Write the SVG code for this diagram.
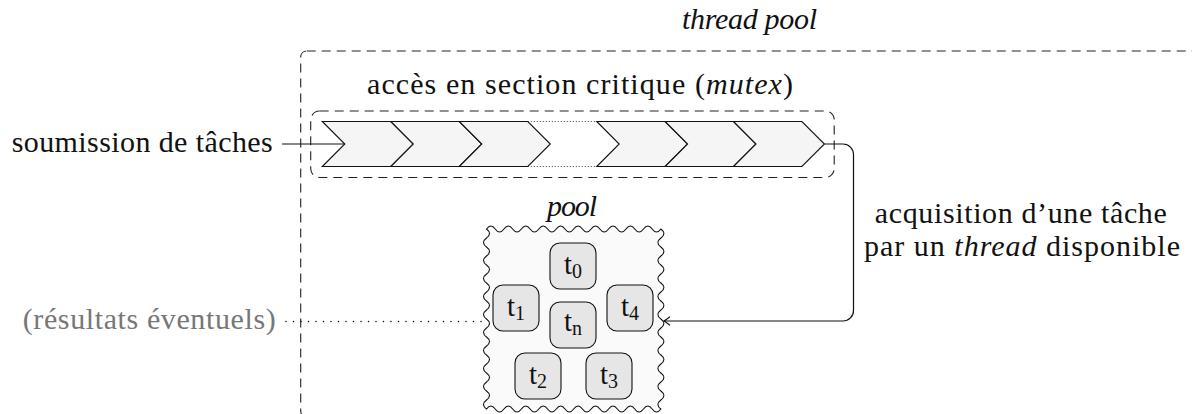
<svg xmlns="http://www.w3.org/2000/svg" width="1192" height="414" viewBox="0 0 1192 414">
<style>
text{font-family:"Liberation Serif","DejaVu Serif",serif;font-size:30px;fill:#111}
.it{font-style:italic}
.gray{fill:#777}
.dash{fill:none;stroke:#222;stroke-width:1.1;stroke-dasharray:9 6}
.chev{fill:#f5f5f5;stroke:#111;stroke-width:1.1;stroke-linejoin:miter}
.fine{fill:none;stroke:#444;stroke-width:1;stroke-dasharray:1 2}
.wire{fill:none;stroke:#111;stroke-width:1.2}
.dots{fill:none;stroke:#111;stroke-width:1.6;stroke-linecap:round;stroke-dasharray:0 7.5}
.task{fill:#e6e6e6;stroke:#111;stroke-width:1.1}
.tl{font-size:29px}
.sub{font-size:20px}
</style>
<defs>
<marker id="arr" viewBox="-8 -6 10 12" markerWidth="10" markerHeight="12" refX="0" refY="0" orient="auto" markerUnits="userSpaceOnUse">
<path d="M-6,-4.2 Q-1.5,-0.8 0,0 Q-1.5,0.8 -6,4.2" fill="none" stroke="#111" stroke-width="1.1"/>
</marker>
</defs>

<g id="thread-pool">
<rect class="dash" x="300.7" y="51" width="897" height="366" rx="6"/>
<text class="it" x="682" y="29" textLength="135">thread pool</text>
</g>

<g id="mutex-zone">
<rect class="dash" x="310.7" y="111" width="523.5" height="66.5" rx="9"/>
<text x="367" y="94" textLength="426">accès en section critique (<tspan class="it">mutex</tspan>)</text>
</g>

<g id="queue">
<polygon class="chev" points="322.3,121.5 390.8,121.5 413.3,144 390.8,166.5 322.3,166.5 344.8,144"/>
<polygon class="chev" points="390.8,121.5 459.3,121.5 481.8,144 459.3,166.5 390.8,166.5 413.3,144"/>
<polygon class="chev" points="459.3,121.5 527.8,121.5 550.3,144 527.8,166.5 459.3,166.5 481.8,144"/>
<line class="fine" x1="527.8" y1="121.5" x2="596.7" y2="121.5"/>
<line class="fine" x1="527.8" y1="166.5" x2="596.7" y2="166.5"/>
<polygon class="chev" points="596.7,121.5 665.1,121.5 687.6,144 665.1,166.5 596.7,166.5 619.2,144"/>
<polygon class="chev" points="665.1,121.5 733.5,121.5 756,144 733.5,166.5 665.1,166.5 687.6,144"/>
<polygon class="chev" points="733.5,121.5 801.9,121.5 824.4,144 801.9,166.5 733.5,166.5 756,144"/>
</g>

<g id="submit-label">
<text x="11.7" y="152" textLength="261">soumission de tâches</text>
</g>

<g id="results-label">
<text class="gray" x="22.7" y="329" textLength="253">(résultats éventuels)</text>
</g>

<g id="acquire-label">
<text x="1020.8" y="223" text-anchor="middle" textLength="292">acquisition d’une tâche</text>
<text x="1022" y="256" text-anchor="middle" textLength="316">par un <tspan class="it">thread</tspan> disponible</text>
</g>

<g id="pool">
<text class="it" x="572" y="216" text-anchor="middle" textLength="50">pool</text>
<path fill="#fafafa" stroke="#111" stroke-width="1.1" d="M486.5,229 q4.4,-6 8.72,0 t8.72,0 t8.72,0 t8.72,0 t8.72,0 t8.72,0 t8.72,0 t8.72,0 t8.72,0 t8.72,0 t8.72,0 t8.72,0 t8.72,0 t8.72,0 t8.72,0 t8.72,0 t8.72,0 t8.72,0 t8.72,0 t8.72,0 q6,4.5 0,9 t0,9 t0,9 t0,9 t0,9 t0,9 t0,9 t0,9 t0,9 t0,9 t0,9 t0,9 t0,9 t0,9 t0,9 t0,9 t0,9 t0,9 t0,9 t0,9 q-4.4,6 -8.72,0 t-8.72,0 t-8.72,0 t-8.72,0 t-8.72,0 t-8.72,0 t-8.72,0 t-8.72,0 t-8.72,0 t-8.72,0 t-8.72,0 t-8.72,0 t-8.72,0 t-8.72,0 t-8.72,0 t-8.72,0 t-8.72,0 t-8.72,0 t-8.72,0 t-8.72,0 q-6,-4.5 0,-9 t0,-9 t0,-9 t0,-9 t0,-9 t0,-9 t0,-9 t0,-9 t0,-9 t0,-9 t0,-9 t0,-9 t0,-9 t0,-9 t0,-9 t0,-9 t0,-9 t0,-9 t0,-9 t0,-9 Z"/>
</g>

<g id="t0"><rect class="task" x="550" y="243" width="46" height="46" rx="10"/><text class="tl" x="573" y="274" text-anchor="middle">t<tspan class="sub" dy="4">0</tspan></text></g>
<g id="t1"><rect class="task" x="493" y="285" width="46" height="46" rx="10"/><text class="tl" x="516" y="316" text-anchor="middle">t<tspan class="sub" dy="4">1</tspan></text></g>
<g id="tn"><rect class="task" x="550" y="302" width="46" height="46" rx="10"/><text class="tl" x="573" y="331" text-anchor="middle">t<tspan class="sub" dy="4">n</tspan></text></g>
<g id="t4"><rect class="task" x="607" y="285" width="46" height="46" rx="10"/><text class="tl" x="630" y="316" text-anchor="middle">t<tspan class="sub" dy="4">4</tspan></text></g>
<g id="t2"><rect class="task" x="515" y="353" width="46" height="46" rx="10"/><text class="tl" x="538" y="384" text-anchor="middle">t<tspan class="sub" dy="4">2</tspan></text></g>
<g id="t3"><rect class="task" x="586" y="353" width="46" height="46" rx="10"/><text class="tl" x="609" y="384" text-anchor="middle">t<tspan class="sub" dy="4">3</tspan></text></g>

<g id="connectors">
<line class="wire" x1="282" y1="144" x2="344.8" y2="144"/>
<path class="wire" d="M824.4,144 H843 A10.5,10.5 0 0 1 853.5,154.5 V310.5 A10.5,10.5 0 0 1 843,321 H664" marker-end="url(#arr)"/>
<line class="dots" x1="286" y1="321.5" x2="484" y2="321.5"/>
</g>
</svg>
